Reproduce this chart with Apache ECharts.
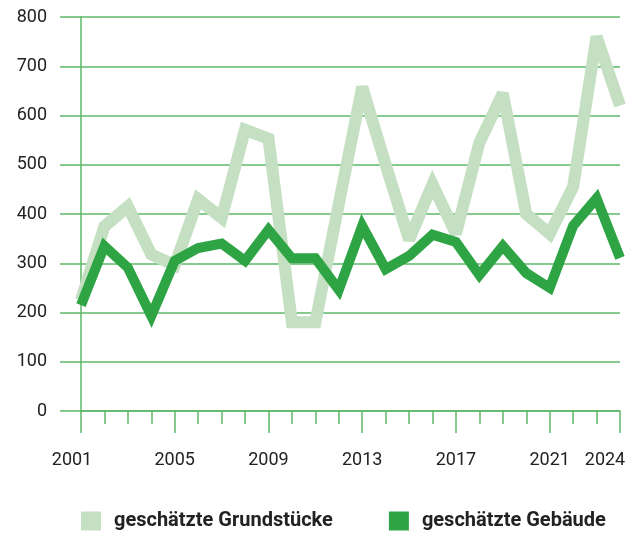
<!doctype html>
<html>
<head>
<meta charset="utf-8">
<title>Grundstücke und Gebäude</title>
<style>
  html, body { margin: 0; padding: 0; background: #fff; }
  #main { width: 637px; height: 536px; }
</style>
</head>
<body>
<div id="main"></div>
<script src="https://cdn.jsdelivr.net/npm/echarts@6/dist/echarts.min.js"></script>
<script>
var years = ['2001','2002','2003','2004','2005','2006','2007','2008','2009','2010','2011','2012',
             '2013','2014','2015','2016','2017','2018','2019','2020','2021','2022','2023','2024'];
var grundstuecke = [225, 375, 415, 318, 296, 430, 392, 571, 553, 180, 180, 420,
                    658, 500, 348, 460, 360, 545, 645, 400, 360, 455, 760, 620];
var gebaeude = [215, 335, 291, 193, 305, 331, 340, 305, 368, 310, 310, 246,
                376, 288, 315, 358, 343, 276, 335, 280, 250, 376, 432, 311];
var majorYears = ['2001','2005','2009','2013','2017','2021','2024'];

var gridColor = '#5db86a';
var lightGreen = '#c4dfc1';
var darkGreen = '#2ea444';
var textColor = '#222';
var font = 'Roboto, "Liberation Sans", sans-serif';

var myChart = echarts.init(document.getElementById('main'));

var option = {
    animation: false,
    grid: { left: 81, right: 17, top: 17, bottom: 125 },
    legend: {
        left: 81,
        top: 511,
        padding: 0,
        itemWidth: 20,
        itemHeight: 19,
        itemGap: 56,
        icon: 'rect',
        textStyle: { fontFamily: font, fontSize: 20, fontWeight: 'bold', color: textColor, padding: [0, 0, 0, 8] },
        data: ['geschätzte Grundstücke', 'geschätzte Gebäude']
    },
    xAxis: [{
        type: 'category',
        data: years,
        boundaryGap: false,
        axisLine: { lineStyle: { color: gridColor, width: 1.5 } },
        axisTick: { interval: 0, length: 13, lineStyle: { color: gridColor, width: 1.5 } },
        axisLabel: {
            interval: function (i, v) { return majorYears.indexOf(v) >= 0; },
            margin: 40,
            fontFamily: font,
            fontSize: 18,
            color: textColor,
            formatter: function (v) {
                if (v === '2001') return '{l|' + v + '}';
                if (v === '2024') return '{r|' + v + '}';
                return v;
            },
            rich: {
                l: { fontFamily: font, fontSize: 18, color: textColor, padding: [0, 18, 0, 0] },
                r: { fontFamily: font, fontSize: 18, color: textColor, padding: [0, 30, 0, 0] }
            }
        },
        splitLine: { show: false }
    }, {
        type: 'category',
        data: years,
        boundaryGap: false,
        position: 'bottom',
        axisLine: { show: false },
        axisTick: {
            interval: function (i, v) { return majorYears.indexOf(v) >= 0; },
            length: 22,
            lineStyle: { color: gridColor, width: 1.5 }
        },
        axisLabel: { show: false },
        splitLine: { show: false }
    }],
    yAxis: {
        type: 'value',
        min: 0,
        max: 800,
        interval: 100,
        axisLine: { show: true, lineStyle: { color: gridColor, width: 1.5 } },
        axisTick: { show: true, length: 21, lineStyle: { color: gridColor, width: 1.5 } },
        axisLabel: { margin: 34, fontFamily: font, fontSize: 18, color: textColor },
        splitLine: { show: true, lineStyle: { color: gridColor, width: 1.5 } }
    },
    series: [{
        name: 'geschätzte Grundstücke',
        type: 'line',
        data: grundstuecke,
        symbol: 'none',
        color: lightGreen,
        lineStyle: { color: lightGreen, width: 12, join: 'miter', miterLimit: 2.5 },
        itemStyle: { color: lightGreen }
    }, {
        name: 'geschätzte Gebäude',
        type: 'line',
        data: gebaeude,
        symbol: 'none',
        color: darkGreen,
        lineStyle: { color: darkGreen, width: 10, join: 'miter', miterLimit: 2.5 },
        itemStyle: { color: darkGreen }
    }]
};

myChart.setOption(option);
</script>
</body>
</html>
